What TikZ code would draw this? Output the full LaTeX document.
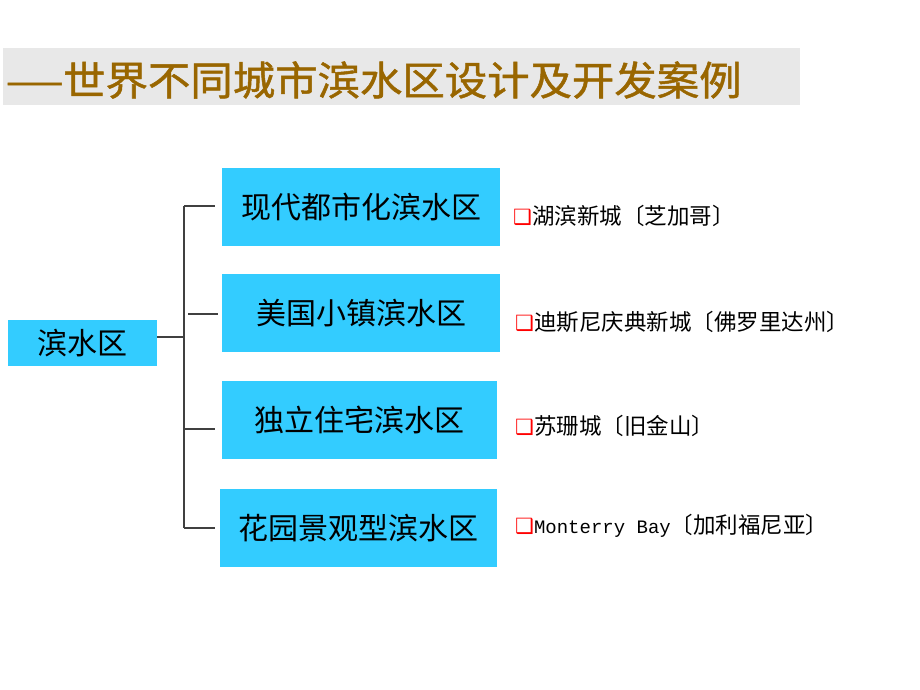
\documentclass[tikz,border=0pt]{standalone}
\usepackage{fontspec}
\usepackage{xcolor}
\usepackage{tikz}
\newfontfamily\cjk{Noto Sans CJK SC}
\newfontfamily\cjkheavy[FakeBold=1.2]{Noto Sans CJK SC}
\newfontfamily\symb{DejaVu Sans}
\newfontfamily\monolat{Liberation Mono}
\definecolor{skyfill}{RGB}{51,204,255}
\definecolor{titlebrown}{RGB}{153,102,0}
\definecolor{bandgray}{RGB}{232,232,232}
\newcommand{\tick}{{\symb\color{red}\fontsize{21}{21}\selectfont ❑}}

\begin{document}
\begin{tikzpicture}[x=1pt, y=-1pt]
    \tikzstyle{zonebox} = [rectangle, fill=skyfill, inner sep=0pt, anchor=north west]
    \tikzstyle{zonetext} = [font=\cjk\fontsize{30}{30}\selectfont]
    \tikzstyle{casetext} = [anchor=west, inner sep=0pt, font=\cjk\fontsize{22.5}{22.5}\selectfont]
    \tikzstyle{branch} = [draw=black!75, line width=1.1pt]
    \useasboundingbox (0,0) rectangle (920,690);
    % title band
    \fill[bandgray] (3,48) rectangle (800,105);
    \node[anchor=west, inner sep=0pt, text=titlebrown, font=\cjkheavy\fontsize{40}{40}\selectfont] (title) at (6,80) {\scalebox{0.85}[1]{——}\scalebox{1.06}[1]{世界不同城市滨水区设计及开发案例}};
    % root
    \node[zonebox, minimum width=149pt, minimum height=46pt] (root) at (8,320) {};
    \node[zonetext] at (root.center) {滨水区};
    % four kinds
    \foreach \name/\x/\y/\w/\txt in {z1/222/168/278/现代都市化滨水区, z2/222/274/278/美国小镇滨水区, z3/222/381/275/独立住宅滨水区, z4/220/489/277/花园景观型滨水区} {
        \node[zonebox, minimum width=\w pt, minimum height=78pt] (\name) at (\x,\y) {};
        \node[zonetext] at (\name.center) {\txt};
    }
    % spine
    \coordinate (top) at (184,206);
    \coordinate (bot) at (184,528);
    \coordinate (mid) at (184,337);
    \coordinate (b1) at (215,206);
    \coordinate (b2) at (218,314);
    \coordinate (b3) at (215,429);
    \coordinate (b4) at (215,528);
    \draw[branch] (top) -- (bot);
    \draw[branch] (root.east |- mid) -- (mid);
    \draw[branch] (top) -- (b1);
    \draw[branch] (188,314) -- (b2);
    \draw[branch] (184,429) -- (b3);
    \draw[branch] (bot) -- (b4);
    % cases
    \node[casetext] (c1) at (513,216) {\tick 湖滨新城〔芝加哥〕};
    \node[casetext] (c2) at (515,322) {\tick 迪斯尼庆典新城〔佛罗里达州〕};
    \node[casetext] (c3) at (515,426) {\tick 苏珊城〔旧金山〕};
    \node[casetext] (c4) at (515,526) {\tick{\monolat\fontsize{19}{19}\selectfont Monterry Bay}〔加利福尼亚〕};
\end{tikzpicture}
\end{document}
